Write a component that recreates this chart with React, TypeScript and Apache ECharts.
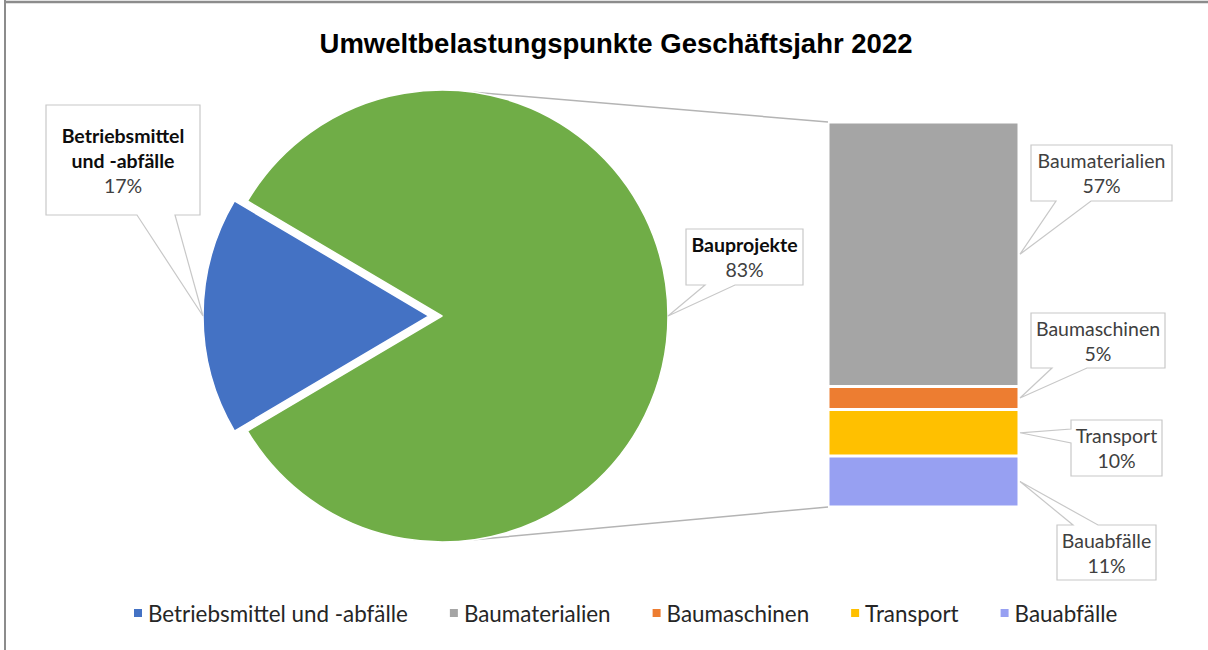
import React, { useEffect, useRef } from "react";
import * as echarts from "echarts";

// ---------- data ----------
const titleText = "Umweltbelastungspunkte Geschäftsjahr 2022";
const pieNames = ["Betriebsmittel und -abfälle", "Bauprojekte"];
const pieValues = [17, 83];
const pieColors = ["#4472C4", "#70AD47"];
// bar segments, top to bottom
const barNames = ["Baumaterialien", "Baumaschinen", "Transport", "Bauabfälle"];
const barValues = [57, 5, 10, 11];
const barColors = ["#A5A5A5", "#ED7D31", "#FFC000", "#97A0F2"];
const legendNames = ["Betriebsmittel und -abfälle", "Baumaterialien", "Baumaschinen", "Transport", "Bauabfälle"];

// ---------- layout ----------
const PIE_C = [442, 316];
const PIE_R = 226;
const EXPLODE = 13;
const GRID = { left: 828, top: 122, width: 191, height: 385 };
const LABEL_FONT = "Lato";
const LABEL_SIZE = 19.5;

type Callout = { box: [number, number, number, number]; side: "bottom" | "left" | "top"; base: [number, number] };
const pieCallouts: Callout[] = [
  { box: [46, 105, 200, 215], side: "bottom", base: [137, 175] },
  { box: [686, 229, 803, 285], side: "bottom", base: [705, 735] },
];
const barCallouts: Callout[] = [
  { box: [1031, 145, 1172, 201], side: "bottom", base: [1056, 1091] },
  { box: [1031, 313, 1165, 368], side: "bottom", base: [1052, 1087] },
  { box: [1071, 420, 1162, 476], side: "left", base: [429, 443] },
  { box: [1057, 525, 1156, 580], side: "top", base: [1073, 1098] },
];

function calloutPoints(c: Callout, tip: number[]) {
  const [x0, y0, x1, y1] = c.box;
  const [a, b] = c.base;
  if (c.side === "bottom")
    return [[x0, y0], [x1, y0], [x1, y1], [b, y1], tip, [a, y1], [x0, y1]];
  if (c.side === "left")
    return [[x0, y0], [x1, y0], [x1, y1], [x0, y1], [x0, b], tip, [x0, a]];
  return [[x0, y0], [a, y0], tip, [b, y0], [x1, y0], [x1, y1], [x0, y1]];
}

export default function App() {
  const ref = useRef<HTMLDivElement>(null);
  useEffect(() => {
    if (!ref.current) return;
    const chart = echarts.init(ref.current, undefined, { renderer: "svg" });
    const pieTotal = pieValues.reduce((s, v) => s + v, 0);
    const startAngle = 180 + (pieValues[0] / pieTotal) * 180;
    const barTotal = barValues.reduce((s, v) => s + v, 0);

    // pie tips
    const pieTips: number[][] = [];
    let cum = 0;
    pieValues.forEach((v, i) => {
      const mid = ((startAngle - ((cum + v / 2) / pieTotal) * 360) * Math.PI) / 180;
      const r = PIE_R + (i === 0 ? EXPLODE : 0);
      pieTips.push([PIE_C[0] + r * Math.cos(mid), PIE_C[1] - r * Math.sin(mid)]);
      cum += v;
    });
    // bar tips (values listed top to bottom)
    const barTips: number[][] = [];
    let above = 0;
    barValues.forEach((v) => {
      const midFromTop = above + v / 2;
      barTips.push([GRID.left + GRID.width + 1, GRID.top + (midFromTop / barTotal) * GRID.height]);
      above += v;
    });

    const graphics: any[] = [];
    // frame
    graphics.push({ type: "line", shape: { x1: 5, y1: 0, x2: 5, y2: 650 }, style: { stroke: "#8C8C8C", lineWidth: 2 } });
    graphics.push({ type: "line", shape: { x1: 4, y1: 2, x2: 1208, y2: 2 }, style: { stroke: "#8C8C8C", lineWidth: 2.5 } });

    // series lines between pie and bar
    const ang = (82 * Math.PI) / 180;
    graphics.push({
      type: "line",
      shape: { x1: PIE_C[0] + PIE_R * Math.cos(ang), y1: PIE_C[1] - PIE_R * Math.sin(ang), x2: GRID.left, y2: GRID.top },
      style: { stroke: "#B4B4B4", lineWidth: 1.5 },
    });
    graphics.push({
      type: "line",
      shape: { x1: PIE_C[0] + PIE_R * Math.cos(ang), y1: PIE_C[1] + PIE_R * Math.sin(ang), x2: GRID.left, y2: GRID.top + GRID.height },
      style: { stroke: "#B4B4B4", lineWidth: 1.5 },
    });

    const addCallout = (c: Callout, tip: number[], text: string) => {
      graphics.push({
        type: "polygon",
        z: 10,
        shape: { points: calloutPoints(c, tip) },
        style: { fill: "#FFFFFF", stroke: "#C8C8C8", lineWidth: 1.2 },
      });
      graphics.push({
        type: "text",
        z: 11,
        x: (c.box[0] + c.box[2]) / 2,
        y: (c.box[1] + c.box[3]) / 2,
        style: {
          text,
          align: "center",
          verticalAlign: "middle",
          rich: {
            n: { fontFamily: LABEL_FONT, fontSize: LABEL_SIZE, fontWeight: "bold", fill: "#0D0D0D", lineHeight: 25, align: "center" },
            r: { fontFamily: LABEL_FONT, fontSize: LABEL_SIZE, fill: "#404040", lineHeight: 25, align: "center" },
            v: { fontFamily: LABEL_FONT, fontSize: LABEL_SIZE, fill: "#404040", lineHeight: 25, align: "center" },
          },
        },
      });
    };
    pieNames.forEach((n, i) => {
      const lines = n.replace(" und ", "\nund ").split("\n").map((l) => `{n|${l}}`);
      addCallout(pieCallouts[i], pieTips[i], lines.join("\n") + `\n{v|${pieValues[i]}%}`);
    });
    barNames.forEach((n, i) => {
      addCallout(barCallouts[i], barTips[i], `{r|${n}}\n{v|${barValues[i]}%}`);
    });

    // bar series, stacked bottom-up
    const barSeries = barNames
      .map((n, i) => ({
        name: n,
        type: "bar",
        stack: "total",
        barWidth: "100%",
        xAxisIndex: 0,
        yAxisIndex: 0,
        data: [barValues[i]],
        itemStyle: { color: barColors[i], borderColor: "#FFFFFF", borderWidth: 1.5 },
        emphasis: { disabled: true },
        silent: true,
      }))
      .reverse();

    chart.setOption({
      animation: false,
      title: {
        text: titleText,
        left: 611,
        top: 24,
        textAlign: "center",
        textStyle: { fontFamily: "Liberation Sans", fontWeight: "bold", fontSize: 27.5, color: "#000000" },
      },
      legend: {
        data: legendNames,
        left: 127,
        top: 597,
        icon: "rect",
        itemWidth: 10,
        itemHeight: 10,
        itemGap: 40,
        selectedMode: false,
        textStyle: { fontFamily: LABEL_FONT, fontSize: 22.4, color: "#262626" },
      },
      grid: { ...GRID },
      xAxis: { type: "category", data: ["Bauprojekte"], show: false },
      yAxis: { type: "value", min: 0, max: barTotal, show: false },
      series: [
        {
          type: "pie",
          center: PIE_C,
          radius: PIE_R,
          startAngle,
          clockwise: true,
          selectedMode: "single",
          selectedOffset: EXPLODE,
          label: { show: false },
          labelLine: { show: false },
          emphasis: { disabled: true },
          silent: true,
          itemStyle: { borderColor: "#FFFFFF", borderWidth: 1.5 },
          data: pieNames.map((n, i) => ({
            name: n,
            value: pieValues[i],
            selected: i === 0,
            itemStyle: { color: pieColors[i] },
          })),
        },
        ...barSeries,
      ],
      graphic: graphics,
    });
    return () => chart.dispose();
  }, []);
  return <div ref={ref} style={{ position: "absolute", left: 0, top: 0, width: 1208, height: 650 }} />;
}
